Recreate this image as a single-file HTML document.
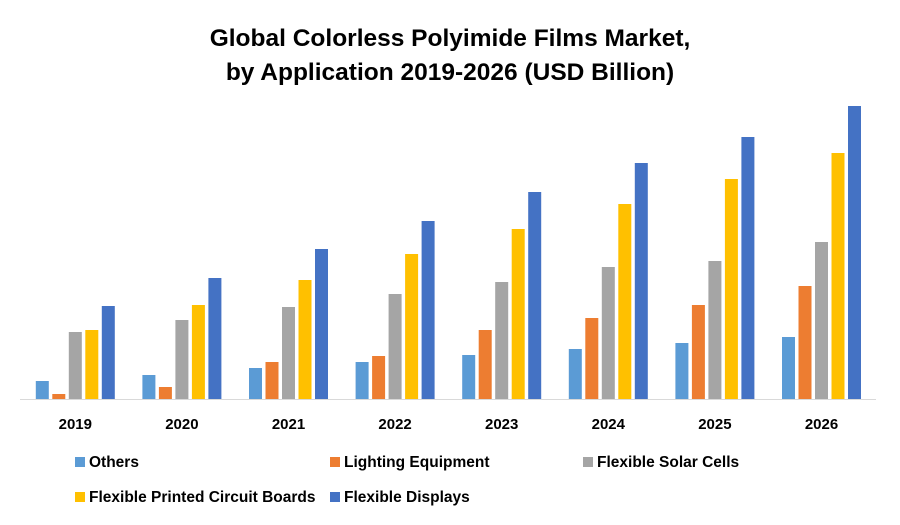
<!DOCTYPE html>
<html><head><meta charset="utf-8"><style>
body{margin:0;background:#fff;}
svg{display:block;font-family:"Liberation Sans",sans-serif;}
</style></head><body>
<svg id="chart" width="900" height="525">
<text x="450" y="46" text-anchor="middle" font-size="24.5" font-weight="bold" fill="#000">Global Colorless Polyimide Films Market,</text>
<text x="450" y="80" text-anchor="middle" font-size="24.5" font-weight="bold" fill="#000">by Application 2019-2026 (USD Billion)</text>
<g id="bars"></g>
<line x1="20" y1="399.5" x2="876" y2="399.5" stroke="#d9d9d9" stroke-width="1"/>
<g id="xlabels"></g>
<g id="legend"></g>
</svg>
<script>
const categories = ["2019","2020","2021","2022","2023","2024","2025","2026"];
const seriesNames = ["Others","Lighting Equipment","Flexible Solar Cells","Flexible Printed Circuit Boards","Flexible Displays"];
const others = [18,24,31,37,44,50,56,62];
const lighting = [5,12,37,43,69,81,94,113];
const solar = [67,79,92,105,117,132,138,157];
const pcb = [69,94,119,145,170,195,220,246];
const displays = [93,121,150,178,207,236,262,293];
const series = [others, lighting, solar, pcb, displays];
const colors = ["#5b9bd5","#ed7d31","#a5a5a5","#ffc000","#4472c4"];
const NS = "http://www.w3.org/2000/svg";
const baseY = 399, plotLeft = 22, groupW = 106.6, barW = 13, barStep = 16.5;
function yScale(v){ return baseY - v * 1.0; }
function xGroup(i){ return plotLeft + groupW * i + groupW / 2; }
const bars = document.getElementById('bars');
series.forEach((vals, s) => {
  vals.forEach((v, i) => {
    const r = document.createElementNS(NS, 'rect');
    const x = xGroup(i) - 2 * barStep - barW / 2 + s * barStep;
    r.setAttribute('x', x);
    r.setAttribute('y', yScale(v));
    r.setAttribute('width', barW);
    r.setAttribute('height', baseY - yScale(v));
    r.setAttribute('fill', colors[s]);
    
    
    bars.appendChild(r);
  });
});
const xl = document.getElementById('xlabels');
categories.forEach((c, i) => {
  const t = document.createElementNS(NS, 'text');
  t.setAttribute('x', xGroup(i));
  t.setAttribute('y', 429);
  t.setAttribute('text-anchor', 'middle');
  t.setAttribute('font-size', '15');
  t.setAttribute('font-weight', 'bold');
  t.textContent = c;
  
  
  xl.appendChild(t);
});
const legendPos = [[75,462],[330,462],[583,462],[75,497],[330,497]];
const lg = document.getElementById('legend');
seriesNames.forEach((n, s) => {
  const g = document.createElementNS(NS, 'g');
  
  
  const r = document.createElementNS(NS, 'rect');
  r.setAttribute('x', legendPos[s][0]);
  r.setAttribute('y', legendPos[s][1] - 5);
  r.setAttribute('width', 10);
  r.setAttribute('height', 10);
  r.setAttribute('fill', colors[s]);
  g.appendChild(r);
  const t = document.createElementNS(NS, 'text');
  t.setAttribute('x', legendPos[s][0] + 14);
  t.setAttribute('y', legendPos[s][1] + 5);
  t.setAttribute('font-size', '15.5');
  t.setAttribute('font-weight', 'bold');
  t.textContent = n;
  g.appendChild(t);
  lg.appendChild(g);
});
</script>
</body></html>
